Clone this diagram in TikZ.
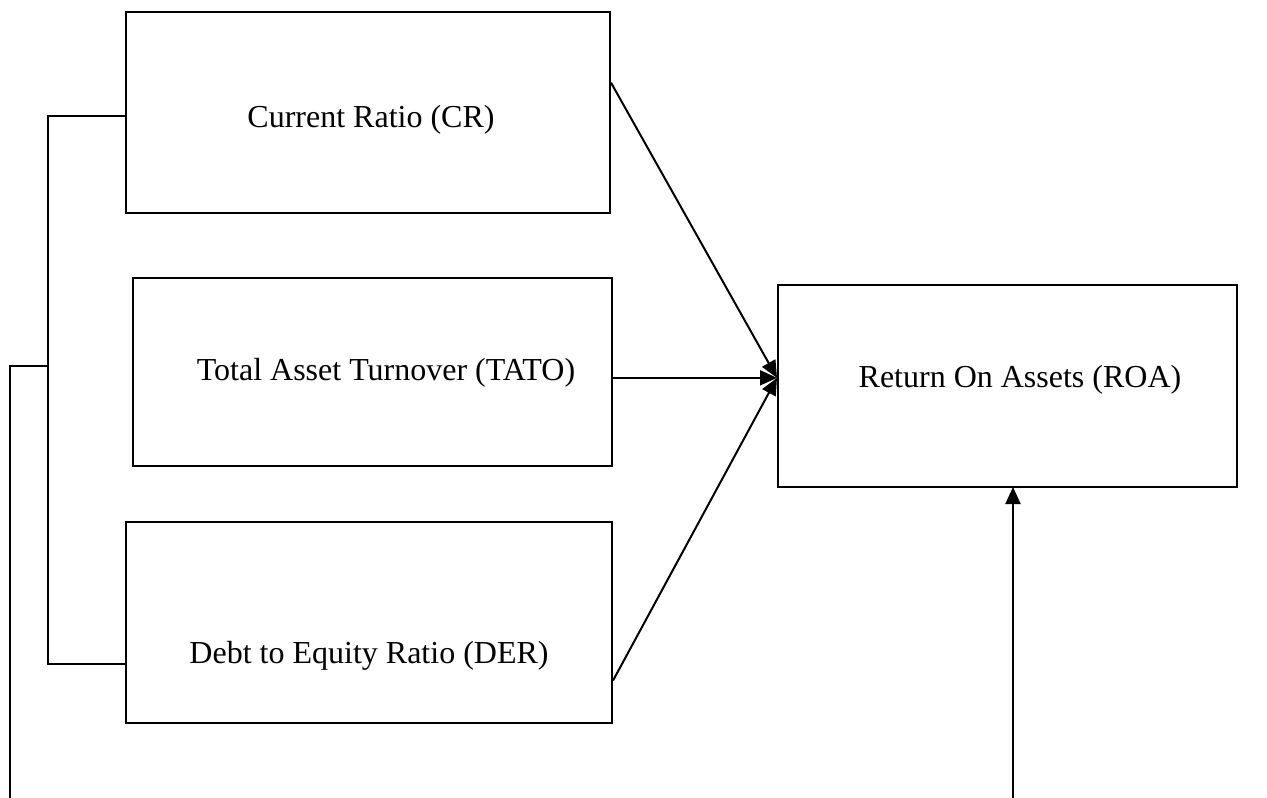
\documentclass[tikz,border=0pt]{standalone}
\usepackage{fontspec}
\setmainfont{Liberation Serif}
\usetikzlibrary{arrows.meta,calc}
\begin{document}
\begin{tikzpicture}[x=1pt,y=-1pt,
  box/.style={draw=black,line width=2pt,inner sep=0pt,minimum width=#1},
  lbl/.style={font=\fontsize{32}{38}\selectfont,inner sep=0pt,anchor=base},
  conn/.style={line width=2pt},
  arr/.style={conn,-{Triangle[length=17pt,width=15pt]}}]
\useasboundingbox (0,0) rectangle (1267,798);
\node[box=484pt,minimum height=201pt] (CR) at (368,112.5) {};
\node[box=479pt,minimum height=188pt] (TATO) at (372.5,372) {};
\node[box=486pt,minimum height=201pt] (DER) at (369,622.5) {};
\node[box=459pt,minimum height=202pt] (ROA) at (1007.5,386) {};
\node[lbl] (tCR) at (371,127) {Current Ratio (CR)};
\node[lbl] (tTATO) at (386,380) {Total Asset Turnover (TATO)};
\node[lbl] (tDER) at (369,663) {Debt to Equity Ratio (DER)};
\node[lbl] (tROA) at (1020,387) {Return On Assets (ROA)};
\coordinate (cro) at ($(CR.north east)!0.353!(CR.south east)$);
\coordinate (dero) at ($(DER.north east)!0.786!(DER.south east)$);
\coordinate (roain) at ($(ROA.north west)!0.46!(ROA.south west)$);
\coordinate (tatoo) at (TATO.east |- roain);
\coordinate (crl) at (CR.west |- 0,116);
\coordinate (derl) at (DER.west |- 0,664);
\coordinate (b1) at (48,116);
\coordinate (b2) at (48,664);
\coordinate (bm) at (48,366);
\coordinate (bl) at (10,366);
\coordinate (blb) at (10,798);
\coordinate (rt) at (1013,487);
\coordinate (rb) at (1013,798);
\draw[arr] (cro) -- (roain);
\draw[arr] (tatoo) -- (roain);
\draw[arr] (dero) -- (roain);
\draw[conn] (crl) -- (b1) -- (b2) -- (derl);
\draw[conn] (bm) -- (bl) -- (blb);
\draw[arr] (rb) -- (rt);
\end{tikzpicture}
\end{document}
